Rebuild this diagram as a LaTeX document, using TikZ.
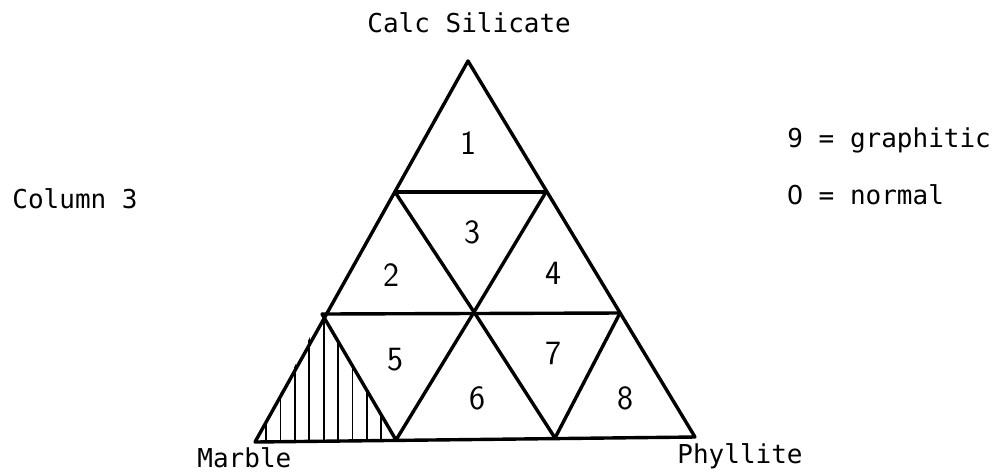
\documentclass[tikz,border=0pt]{standalone}
\usepackage{fontspec}
\newfontfamily\typewriter{DejaVu Sans Mono}
\newfontfamily\plainsans{DejaVu Sans}
\usetikzlibrary{calc}
\tikzset{
  bar/.style={line width=1.7pt, line join=round, line cap=round},
  hatchline/.style={line width=0.9pt},
  mono/.style={font=\typewriter\fontsize{13}{15}\selectfont, inner sep=0pt, anchor=base west},
  cellnum/.style={font=\sffamily\fontsize{17}{20}\selectfont, inner sep=0pt},
}
% plain zero, no dot in it
\newcommand{\plainzero}{\makebox[7.83pt]{\plainsans 0}}

\begin{document}
\begin{tikzpicture}[x=0.5pt,y=-0.5pt]
  \useasboundingbox (0,0) rectangle (1001,473);
  % corners of the grid
  \coordinate (top) at (468,61);
  \coordinate (p1l) at (395,192);
  \coordinate (p1r) at (546,192);
  \coordinate (p2l) at (322,314);
  \coordinate (p2m) at (474,312);
  \coordinate (p2r) at (620,313);
  \coordinate (bl) at (255,442);
  \coordinate (b1) at (396,440);
  \coordinate (b2) at (555,438);
  \coordinate (br) at (695,437);
  % hatched field
  \begin{scope}
    \clip (bl) -- (p2l) -- (b1) -- cycle;
    \foreach \i in {0,...,8}
      \draw[hatchline] ({266+14.4*\i},300) -- ({266+14.4*\i},450);
  \end{scope}
  % outline
  \draw[bar] (top) -- (br) -- (bl) -- cycle;
  % horizontal bars
  \draw[bar] (p1l) -- (p1r);
  \draw[bar] (p2l) -- (p2r);
  % slanted bars
  \draw[bar] (p1l) -- (p2m) -- (b2);
  \draw[bar] (p1r) -- (p2m) -- (b1);
  \draw[bar] (p2l) -- (b1);
  \draw[bar] (p2r) -- (b2);
  % field numbers
  \node[cellnum] (n1) at (468,143) {1};
  \node[cellnum] (n2) at (391,275) {2};
  \node[cellnum] (n3) at (472,232) {3};
  \node[cellnum] (n4) at (553,273) {4};
  \node[cellnum] (n5) at (395,360) {5};
  \node[cellnum] (n6) at (477,398) {6};
  \node[cellnum] (n7) at (553,353) {7};
  \node[cellnum] (n8) at (625,398) {8};
  % labels
  \node[mono] (calc) at (367,32) {Calc Silicate};
  \node[mono] (column) at (12,208) {Column 3};
  \node[mono] (marble) at (197,467) {Marble};
  \node[mono] (phyllite) at (677,463) {Phyllite};
  \node[mono] (graphitic) at (787,147) {9 = graphitic};
  \node[mono] (normal) at (787,204) {\plainzero{} = normal};
\end{tikzpicture}
\end{document}
